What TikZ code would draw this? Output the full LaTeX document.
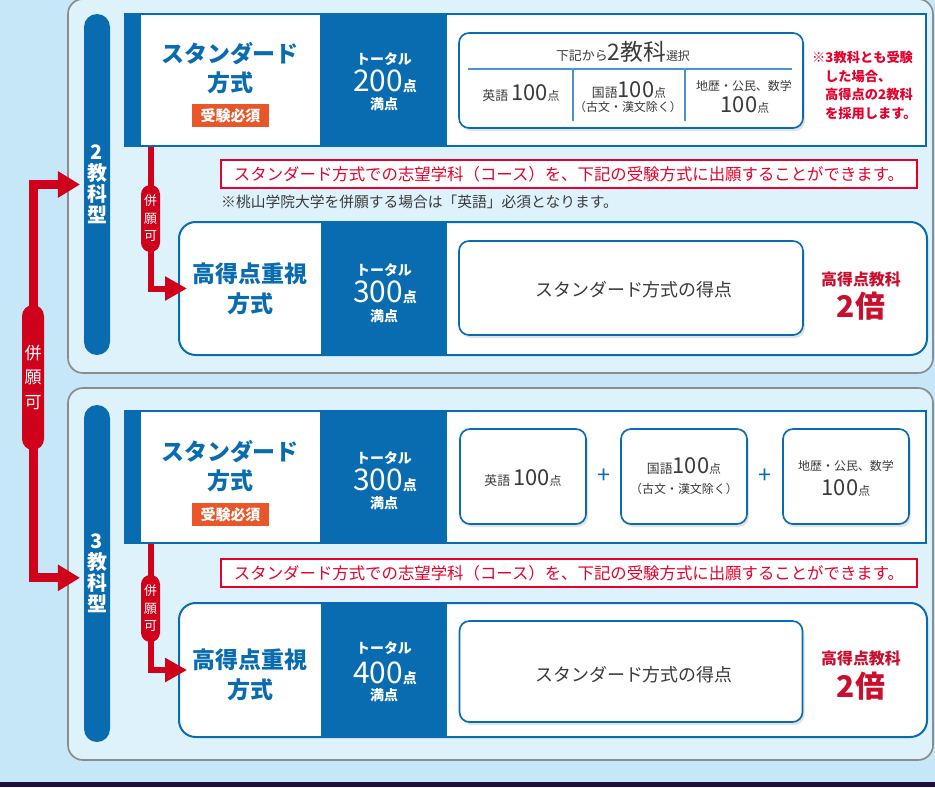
\documentclass[tikz,border=0pt]{standalone}
\usepackage{fontspec}
\setmainfont{Noto Sans CJK JP}
\usetikzlibrary{arrows.meta,shadows}
\definecolor{skyback}{HTML}{C6E7F8}
\definecolor{panelfill}{HTML}{DDF2FB}
\definecolor{panelline}{HTML}{8C8C8C}
\definecolor{kblue}{HTML}{0A6CB0}
\definecolor{kthin}{HTML}{4A94CC}
\definecolor{kred}{HTML}{D0021B}
\definecolor{kcrimson}{HTML}{C8102E}
\definecolor{ktext}{HTML}{E5002D}
\definecolor{korange}{HTML}{E8562A}
\definecolor{knight}{HTML}{1E0E3A}
\definecolor{kgray}{HTML}{3A3A3A}
\newcommand{\fs}[1]{\fontsize{#1pt}{#1pt}\selectfont}

\begin{document}
\begin{tikzpicture}
[x=0.03cm,y=-0.03cm,
  sz/.style 2 args={minimum width=#1*0.03cm,minimum height=#2*0.03cm,inner sep=0pt,outer sep=0pt},%
  paneldecorate/.style={draw=panelline,fill=panelfill,line width=0.05cm,rounded corners=0.45cm},%
  typedecorate/.style={fill=kblue,rounded corners=0.39cm,text=white,align=center,font=\bfseries\fontsize{17pt}{17.9pt}\selectfont},%
  pilldecorate/.style={fill=kred,rounded corners=0.28cm,text=white,align=center,font=\fontsize{11pt}{14.9pt}\selectfont},%
  dualdecorate/.style={fill=kred,rounded corners=0.33cm,text=white,align=center,font=\fontsize{14.5pt}{21.3pt}\selectfont},%
  bluedecorate/.style={fill=kblue},%
  celldecorate/.style={fill=white},%
  highdecorate/.style={draw=kblue,fill=white,line width=0.06cm,rounded corners=0.5cm},%
  rounddecorate/.style={draw=kblue,fill=white,line width=0.05cm,rounded corners=0.3cm,
    drop shadow={shadow xshift=0.06cm,shadow yshift=-0.09cm,opacity=0.22}},%
  titledecorate/.style={text=kblue,font=\bfseries\fs{19.6}},%
  badgedecorate/.style={fill=korange,text=white,font=\bfseries\fs{12.8}},%
  totaldecorate/.style={text=white,inner sep=0pt,font=\bfseries\fs{11.9}},%
  pointdecorate/.style={text=white,inner sep=0pt},%
  plaindecorate/.style={text=kgray,font=\fs{15.3}},%
  cellnote/.style={text=kgray,inner sep=0pt,anchor=base},%
  hidecorate/.style={text=kcrimson,font=\bfseries\fs{13.6}},%
  twicedecorate/.style={text=kcrimson,font=\bfseries\fs{25.5}},%
  rednote/.style={text=ktext,font=\bfseries\fs{11.3},inner sep=0pt,anchor=base west},%
  noticedecorate/.style={draw=ktext,fill=white,line width=0.04cm,text=ktext,font=\fs{14}},%
  thindecorate/.style={draw=kthin,line width=0.045cm},%
  plusdecorate/.style={text=kblue,font=\fs{20}},%
  redarrow/.style={draw=kred,line width=0.18cm,-{Triangle[length=0.66cm,width=0.69cm]}},%
  dualarrow/.style={draw=kred,line width=0.27cm,{Triangle[length=0.66cm,width=0.75cm]}-{Triangle[length=0.66cm,width=0.75cm]}}]
% background
\clip (0,0) rectangle (935,787);
\fill[skyback] (0,0) rectangle (935,787);
\fill[knight] (0,782) rectangle (935,787);
% panels
\node (panel2k) at (500.5,186) [paneldecorate,sz={865}{374}] {};
\node (panel3k) at (500.5,574) [paneldecorate,sz={865}{372}] {};
\node (type2k) at (97,184.5) [typedecorate,sz={26}{341}] {2\\教\\科\\型};
\node (type3k) at (97,573.5) [typedecorate,sz={26}{337}] {3\\教\\科\\型};
% standard method, 2 subjects
\node (std2k) at (525.5,80) [bluedecorate,sz={803}{134}] {};
\node (name2k) at (230.5,80) [celldecorate,sz={179}{130}] {};
\node (score2k) at (686,80) [celldecorate,sz={478}{130}] {};
\node (title2k) at (230,54) [titledecorate] {スタンダード};
\node (method2k) at (230,83) [titledecorate] {方式};
\node (must2k) at (230.5,115.5) [badgedecorate,sz={77}{23}] {受験必須};
\node (total2k) at (384,59) [totaldecorate] {トータル};
\node (points2k) at (385,81) [pointdecorate] {{\fs{25.5}200}{\bfseries\fs{11.9}点}};
\node (full2k) at (384,104) [totaldecorate] {満点};
\node (choose2k) at (631,80.5) [rounddecorate,sz={344}{95}] {};
\node (pick2k) at (623,52) [text=kgray] {{\fs{11}下記から}{\fs{19.5}2教科}{\fs{10.2}選択}};
\draw[thindecorate] (468,69) -- (792,69);
\draw[thindecorate] (573,69) -- (573,121);
\draw[thindecorate] (685,69) -- (685,121);
\node (eng2k) at (521,100) [cellnote] {{\fs{11}英語 }{\fs{18.7}100}{\fs{10.2}点}};
\node (jpn2k) at (629,97) [cellnote] {{\fs{11}国語}{\fs{18.7}100}{\fs{10.2}点}};
\node (jpnx2k) at (628,111) [cellnote] {\fs{10.2}（古文・漢文除く）};
\node (soc2k) at (744,90) [cellnote] {\fs{10.2}地歴・公民、数学};
\node (socp2k) at (745,112) [cellnote] {{\fs{18.7}100}{\fs{10.2}点}};
\node (memo2k) at (812,63) [rednote] {※3教科とも受験};
\node (memob2k) at (825,81) [rednote] {した場合、};
\node (memoc2k) at (825,99) [rednote] {高得点の2教科};
\node (memod2k) at (825,118) [rednote] {を採用します。};
% notice, 2 subjects
\node (notice2k) at (569,174) [noticedecorate,sz={696}{28}] {スタンダード方式での志望学科（コース）を、下記の受験方式に出願することができます。};
\node (extra2k) at (221,202) [anchor=west,inner sep=0pt,text=kgray,font=\fs{12.6}] {※桃山学院大学を併願する場合は「英語」必須となります。};
% high score method, 2 subjects
\node (high2k) at (553,288.5) [highdecorate,sz={748}{133}] {};
\node (band2k) at (384,288.5) [bluedecorate,sz={126}{133}] {};
\node (htitle2k) at (250,274) [titledecorate] {高得点重視};
\node (hmethod2k) at (250,304) [titledecorate] {方式};
\node (htotal2k) at (384,270) [totaldecorate] {トータル};
\node (hpoints2k) at (385,292) [pointdecorate] {{\fs{25.5}300}{\bfseries\fs{11.9}点}};
\node (hfull2k) at (384,316) [totaldecorate] {満点};
\node (same2k) at (631,288) [rounddecorate,sz={344}{94}] {};
\node (samet2k) at (634,290) [plaindecorate] {スタンダード方式の得点};
\node (hi2k) at (861,279) [hidecorate] {高得点教科};
\node (twice2k) at (861,306) [twicedecorate] {2倍};
% standard method, 3 subjects
\node (std3k) at (525.5,477) [bluedecorate,sz={803}{134}] {};
\node (name3k) at (230.5,477) [celldecorate,sz={179}{130}] {};
\node (score3k) at (686,477) [celldecorate,sz={478}{130}] {};
\node (title3k) at (230,452) [titledecorate] {スタンダード};
\node (method3k) at (230,481) [titledecorate] {方式};
\node (must3k) at (230.5,514.5) [badgedecorate,sz={77}{23}] {受験必須};
\node (total3k) at (384,458) [totaldecorate] {トータル};
\node (points3k) at (385,480) [pointdecorate] {{\fs{25.5}300}{\bfseries\fs{11.9}点}};
\node (full3k) at (384,503) [totaldecorate] {満点};
\node (eng3k) at (523,476.5) [rounddecorate,sz={126}{95}] {};
\node (jpn3k) at (684,476.5) [rounddecorate,sz={126}{95}] {};
\node (soc3k) at (846,476.5) [rounddecorate,sz={126}{95}] {};
\node (plusa3k) at (604,476) [plusdecorate] {+};
\node (plusb3k) at (765,476) [plusdecorate] {+};
\node (engt3k) at (523,485) [cellnote] {{\fs{11}英語 }{\fs{18.7}100}{\fs{10.2}点}};
\node (jpnt3k) at (684,473) [cellnote] {{\fs{11}国語}{\fs{18.7}100}{\fs{10.2}点}};
\node (jpnx3k) at (684,493) [cellnote] {\fs{10.2}（古文・漢文除く）};
\node (soct3k) at (846,470) [cellnote] {\fs{10.2}地歴・公民、数学};
\node (socp3k) at (846,495) [cellnote] {{\fs{18.7}100}{\fs{10.2}点}};
% notice, 3 subjects
\node (notice3k) at (569,573) [noticedecorate,sz={696}{28}] {スタンダード方式での志望学科（コース）を、下記の受験方式に出願することができます。};
% high score method, 3 subjects
\node (high3k) at (553,670) [highdecorate,sz={748}{134}] {};
\node (band3k) at (384,670) [bluedecorate,sz={126}{134}] {};
\node (htitle3k) at (250,660) [titledecorate] {高得点重視};
\node (hmethod3k) at (250,690) [titledecorate] {方式};
\node (htotal3k) at (384,648) [totaldecorate] {トータル};
\node (hpoints3k) at (385,673) [pointdecorate] {{\fs{25.5}400}{\bfseries\fs{11.9}点}};
\node (hfull3k) at (384,695) [totaldecorate] {満点};
\node (same3k) at (631,671.5) [rounddecorate,sz={343}{101}] {};
\node (samet3k) at (634,675) [plaindecorate] {スタンダード方式の得点};
\node (hi3k) at (861,658) [hidecorate] {高得点教科};
\node (twice3k) at (861,686) [twicedecorate] {2倍};
% connectors
\coordinate (dualc2k) at (150.5,218.5);
\coordinate (dualc3k) at (150.5,608.5);
\coordinate (tip2k) at ([xshift=0.24cm]high2k.west);
\coordinate (tip3k) at ([xshift=0.24cm]high3k.west);
\draw[redarrow] (dualc2k |- std2k.south) -- (dualc2k |- tip2k) -- (tip2k);
\draw[redarrow] (dualc3k |- std3k.south) -- (dualc3k |- tip3k) -- (tip3k);
\node (dual2k) at (dualc2k) [pilldecorate,sz={19}{67}] {併\\願\\可};
\node (dual3k) at (dualc3k) [pilldecorate,sz={19}{67}] {併\\願\\可};
\coordinate (dualc) at (33,377.5);
\coordinate (tipa) at ([xshift=-0.12cm]type2k.west);
\coordinate (tipb) at ([xshift=-0.12cm,yshift=-0.13cm]type3k.west);
\draw[dualarrow] (tipa) -| (dualc) |- (tipb);
\node (dual) at (dualc) [dualdecorate,sz={22}{145}] {併\\願\\可};
\end{tikzpicture}
\end{document}
